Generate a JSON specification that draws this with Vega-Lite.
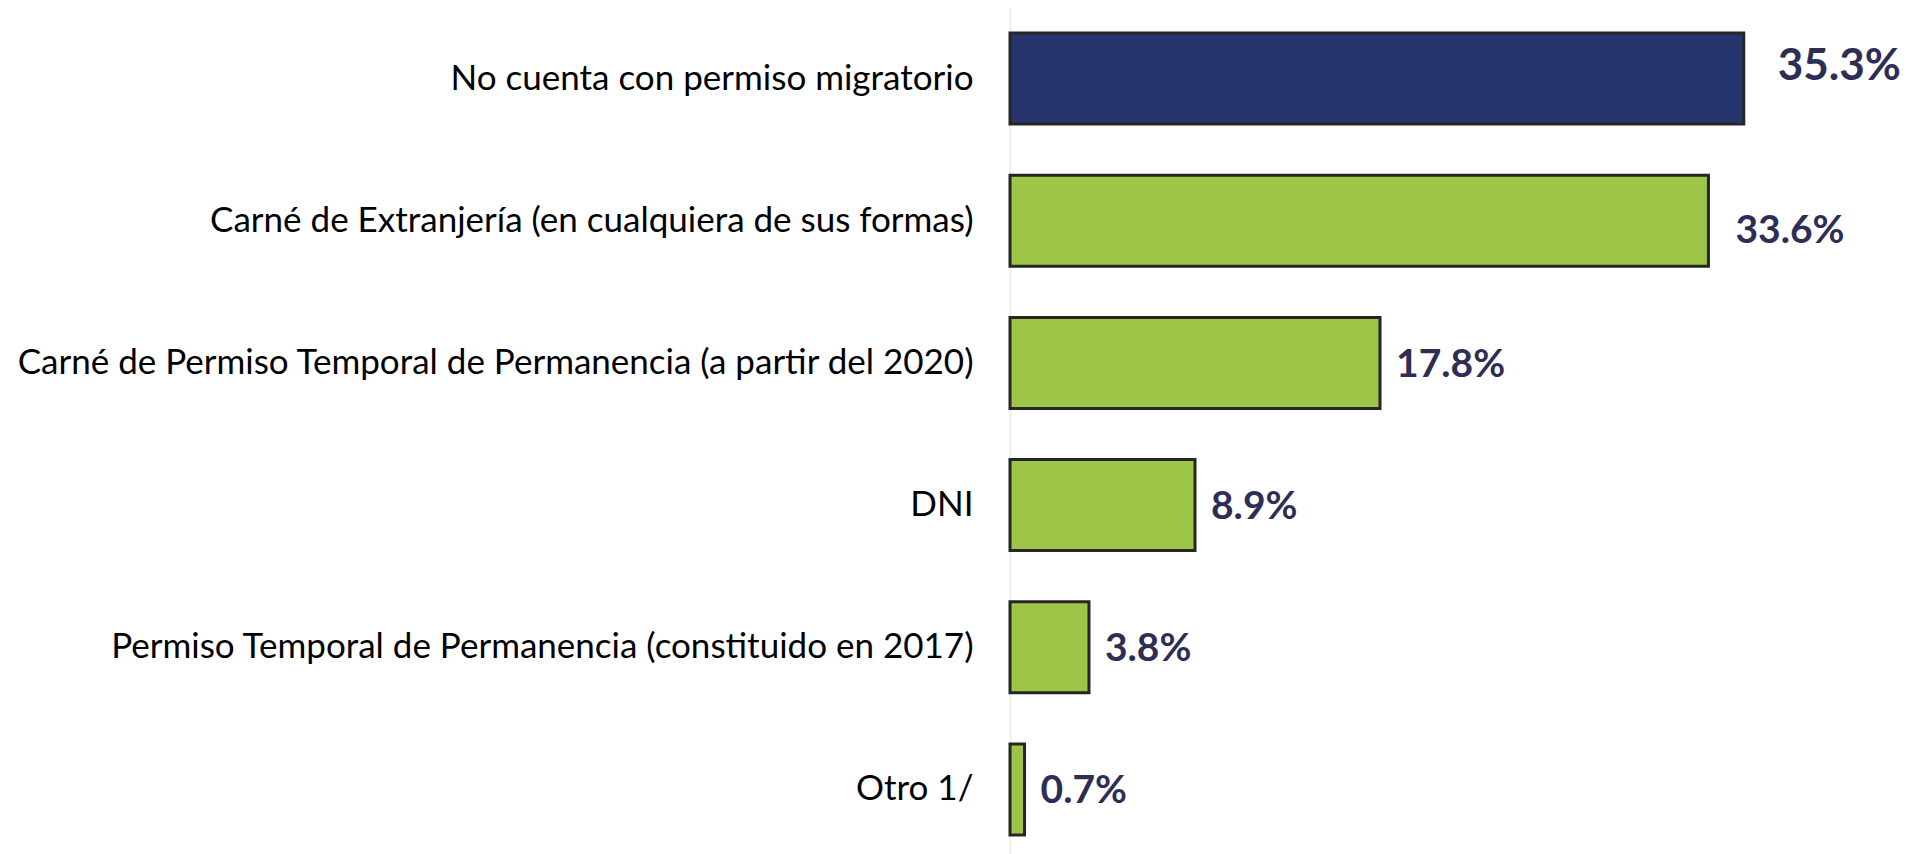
{
  "$schema": "https://vega.github.io/schema/vega-lite/v6.json",
  "autosize": "none",
  "width": 898,
  "height": 852,
  "padding": {"left": 1010, "top": 8, "right": 0, "bottom": 0},
  "background": "white",
  "config": {"view": {"stroke": null}},
  "data": {"values": [
    {"categoria": "No cuenta con permiso migratorio", "valor": 0.353},
    {"categoria": "Carné de Extranjería (en cualquiera de sus formas)", "valor": 0.336},
    {"categoria": "Carné de Permiso Temporal de Permanencia (a partir del 2020)", "valor": 0.178},
    {"categoria": "DNI", "valor": 0.089},
    {"categoria": "Permiso Temporal de Permanencia (constituido en 2017)", "valor": 0.038},
    {"categoria": "Otro 1/", "valor": 0.007}
  ]},
  "encoding": {
    "y": {
      "field": "categoria", "type": "nominal", "sort": null, "title": null,
      "scale": {"paddingInner": 0.36, "paddingOuter": 0.176},
      "axis": {
        "domainColor": "#eeeeee", "domainWidth": 2, "ticks": false,
        "labelFont": "Lato", "labelFontSize": 35, "labelColor": "#000000",
        "labelPadding": 37, "labelLimit": 1000
      }
    },
    "x": {
      "field": "valor", "type": "quantitative", "title": null,
      "scale": {"domain": [0, 0.432], "nice": false}, "axis": null
    }
  },
  "layer": [
    {
      "mark": {"type": "bar", "stroke": "#262626", "strokeWidth": 3},
      "encoding": {
        "color": {
          "condition": {"test": "datum.categoria === 'No cuenta con permiso migratorio'", "value": "#25346b"},
          "value": "#9dc548"
        }
      }
    },
    {
      "transform": [{"filter": "datum.categoria === 'No cuenta con permiso migratorio'"}],
      "mark": {"type": "text", "align": "left", "baseline": "middle", "dx": 34, "dy": -12, "fontSize": 44, "font": "Lato", "fontWeight": "bold", "color": "#2e2d55"},
      "encoding": {
        "text": {"field": "valor", "type": "quantitative", "format": ".1%"}
      }
    },
    {
      "transform": [{"filter": "datum.categoria === 'Carné de Extranjería (en cualquiera de sus formas)'"}],
      "mark": {"type": "text", "align": "left", "baseline": "middle", "dx": 27, "dy": 10, "fontSize": 39, "font": "Lato", "fontWeight": "bold", "color": "#2e2d55"},
      "encoding": {
        "text": {"field": "valor", "type": "quantitative", "format": ".1%"}
      }
    },
    {
      "transform": [{"filter": "datum.categoria !== 'No cuenta con permiso migratorio' && datum.categoria !== 'Carné de Extranjería (en cualquiera de sus formas)'"}],
      "mark": {"type": "text", "align": "left", "baseline": "middle", "dx": 16, "dy": 2, "fontSize": 39, "font": "Lato", "fontWeight": "bold", "color": "#2e2d55"},
      "encoding": {
        "text": {"field": "valor", "type": "quantitative", "format": ".1%"}
      }
    }
  ]
}
